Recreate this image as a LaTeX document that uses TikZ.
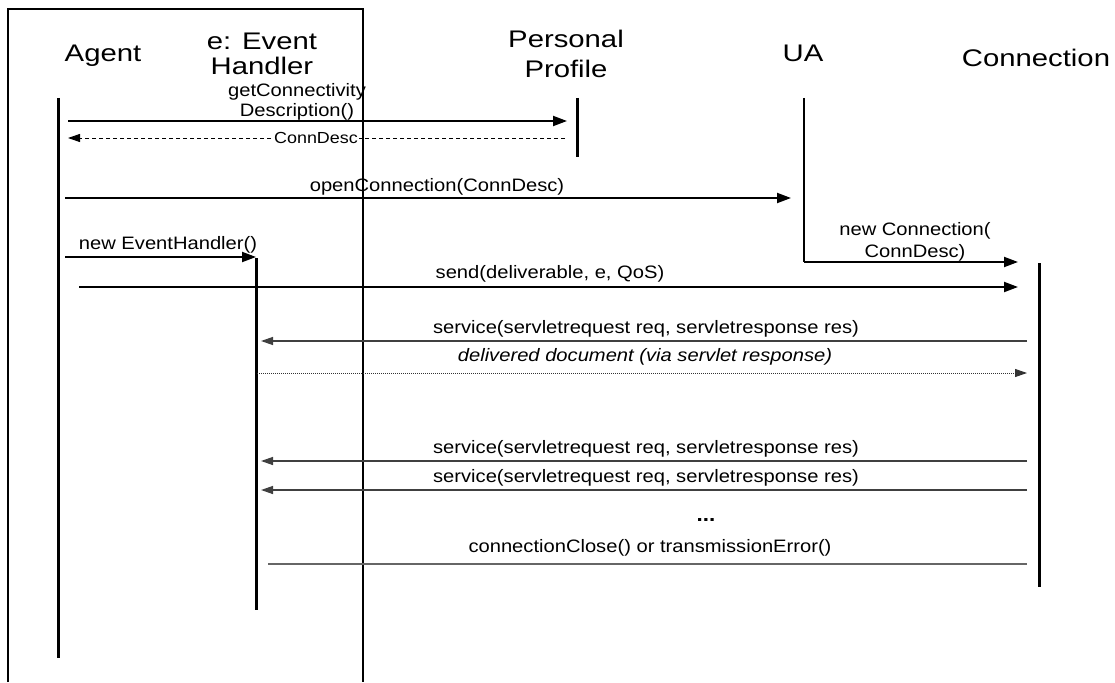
\documentclass[tikz,border=0pt]{standalone}
\usepackage{fontspec}
\setmainfont{Liberation Sans}[FakeStretch=1.12]
\newfontfamily\titlefont{Liberation Sans}[FakeStretch=1.22]
\usetikzlibrary{arrows.meta}

\tikzset{
  titel/.style={font=\titlefont\fontsize{24}{25}\selectfont, align=center, inner sep=0pt},
  lbl/.style={font=\fontsize{18}{22}\selectfont, align=center, inner sep=0pt},
  lifeline/.style={line width=3pt},
  frame/.style={line width=1.4pt},
  msg/.style={line width=2pt, -{Triangle[length=14pt,width=10pt]}},
  call/.style={line width=1.3pt, black!75, -{Triangle[length=12pt,width=8pt]}},
  reply/.style={line width=1pt, dash pattern=on 4pt off 3pt, -{Triangle[length=12pt,width=8pt]}},
  result/.style={line width=1pt, black!80, dash pattern=on 1pt off 1pt, -{Triangle[length=12pt,width=8pt]}}
}

\begin{document}
\begin{tikzpicture}[x=1pt,y=-1pt]
\useasboundingbox (0,0) rectangle (1115,682);

% 外框
\draw[frame] (8,682) -- (8,9) -- (363,9) -- (363,682);

% 对象
\node[titel, anchor=base] (agent) at (103,62) {Agent};
\node[titel, anchor=north] (handler) at (262,33) {e: Event\\Handler};
\node[titel, anchor=north] (profile) at (566,30) {Personal\\[5pt]Profile};
\node[titel, anchor=base] (ua) at (803,62) {UA};
\node[titel, anchor=base] (conn) at (1036,67) {Connection};

% 生命线
\coordinate (agT) at (58,98);
\coordinate (agB) at (58,658);
\coordinate (ehT) at (256,258);
\coordinate (ehB) at (256,610);
\coordinate (ppT) at (577,98);
\coordinate (ppB) at (577,157);
\coordinate (uaT) at (804,98);
\coordinate (uaB) at (804,262);
\coordinate (coT) at (1039,263);
\coordinate (coB) at (1039,587);
\draw[lifeline] (agT) -- (agB);
\draw[lifeline] (ehT) -- (ehB);
\draw[lifeline] (ppT) -- (ppB);
\draw[line width=2.2pt] (uaT) -- (uaB);
\draw[lifeline] (coT) -- (coB);

% 查询连接描述
\coordinate (m1a) at (68,121);
\coordinate (m1b) at (567,121);
\draw[msg] (m1a) -- (m1b);
\node[lbl, font=\fontsize{18}{19.5}\selectfont, anchor=south] (l1) at (297,120) {getConnectivity\\Description()};
\coordinate (m2a) at (565,138);
\coordinate (m2b) at (68,138);
\draw[reply] (m2a) -- (m2b);
\node[lbl, font=\fontsize{16}{18}\selectfont, fill=white, inner sep=1pt] (l2) at (316,138) {ConnDesc};

% 打开连接
\coordinate (m3a) at (65,198);
\coordinate (m3b) at (791,198);
\draw[msg] (m3a) -- (m3b);
\node[lbl, anchor=south] (l3) at (437,195) {openConnection(ConnDesc)};

\coordinate (m4a) at (65,257);
\coordinate (m4b) at (256,257);
\draw[msg] (m4a) -- (m4b);
\node[lbl, anchor=south] (l4) at (168,253) {new EventHandler()};

\coordinate (m5b) at (1018,262);
\draw[msg] (uaB) -- (m5b);
\node[lbl, anchor=south] (l5) at (915,261) {new Connection(\\ConnDesc)};

\coordinate (m6a) at (79,287);
\coordinate (m6b) at (1018,287);
\draw[msg] (m6a) -- (m6b);
\node[lbl, anchor=south] (l6) at (550,282) {send(deliverable, e, QoS)};

% servlet 调用
\coordinate (m7a) at (1027,341);
\coordinate (m7b) at (261,341);
\draw[call] (m7a) -- (m7b);
\node[lbl, anchor=south] (l7) at (646,337) {service(servletrequest req, servletresponse res)};

\coordinate (m8a) at (257,373);
\coordinate (m8b) at (1027,373);
\draw[result] (m8a) -- (m8b);
\node[lbl, anchor=south, font=\itshape\fontsize{18}{22}\selectfont] (l8) at (645,365) {delivered document (via servlet response)};

\coordinate (m9a) at (1027,461);
\coordinate (m9b) at (261,461);
\draw[call] (m9a) -- (m9b);
\node[lbl, anchor=south] (l9) at (646,457) {service(servletrequest req, servletresponse res)};

\coordinate (m10a) at (1027,490);
\coordinate (m10b) at (261,490);
\draw[call] (m10a) -- (m10b);
\node[lbl, anchor=south] (l10) at (646,486) {service(servletrequest req, servletresponse res)};

\node[lbl, font=\bfseries\fontsize{20}{22}\selectfont, anchor=base] (dots) at (706,521) {...};

% 关闭连接
\coordinate (m11a) at (1027,564);
\coordinate (m11b) at (268,564);
\draw[line width=1.3pt, black!60] (m11a) -- (m11b);
\node[lbl, anchor=south] (l11) at (650,556) {connectionClose() or transmissionError()};
\end{tikzpicture}
\end{document}
